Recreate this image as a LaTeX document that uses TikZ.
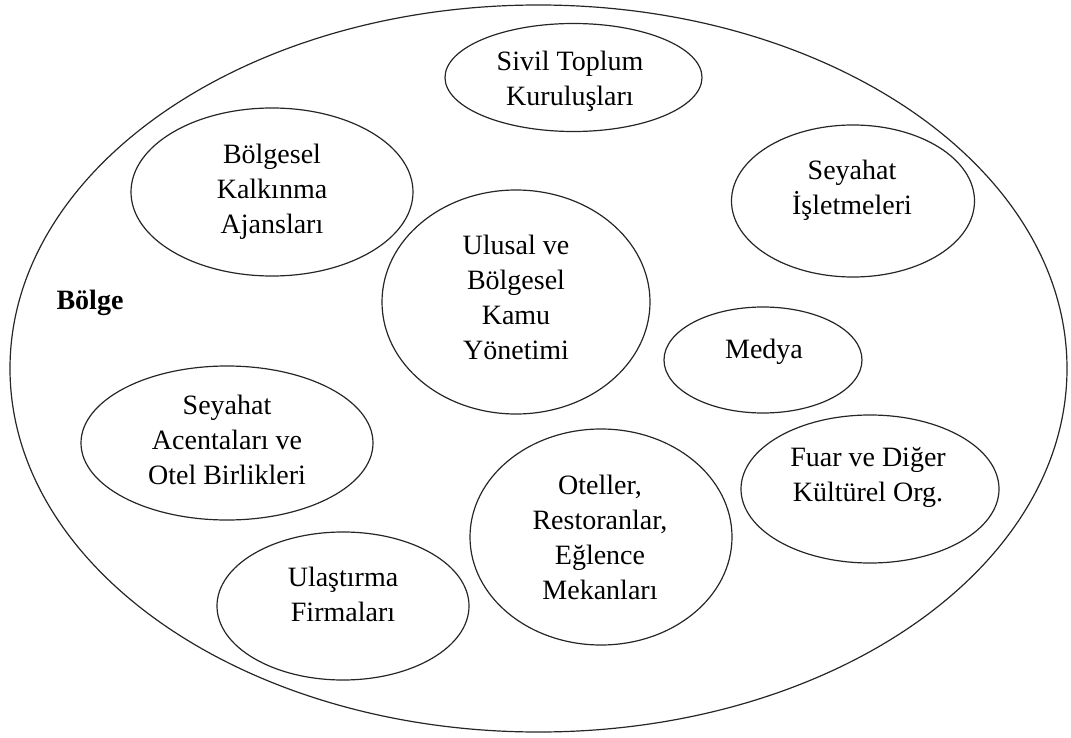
\documentclass[tikz,border=0pt]{standalone}
\usepackage{fontspec}
\setmainfont{Liberation Serif}
\usetikzlibrary{shapes.geometric}
\begin{document}
\begin{tikzpicture}[x=0.75pt,y=-0.75pt,
  blob/.style={draw=black!85, ellipse, inner sep=0pt, line width=0.9pt},
  txt/.style={align=center, inner sep=0pt, font=\fontsize{21}{26.25}\selectfont}]
\useasboundingbox (0,0) rectangle (1071,738);
% outer region
\node[blob, minimum width=792.75pt, minimum height=545.25pt] (region) at (538.5,368.5) {};
\node[txt, font=\fontsize{21}{26.25}\selectfont\bfseries] (bolge) at (90,303) {Bölge};
% inner ellipses
\node[blob, minimum width=192.75pt, minimum height=81pt] (sivil) at (573.5,77.5) {};
\node[blob, minimum width=211.5pt, minimum height=126pt] (bka) at (272,192) {};
\node[blob, minimum width=182.25pt, minimum height=114pt] (seyis) at (853,201) {};
\node[blob, minimum width=201pt, minimum height=168pt] (kamu) at (516,302) {};
\node[blob, minimum width=148.5pt, minimum height=79.5pt] (medya) at (763,360) {};
\node[blob, minimum width=219pt, minimum height=115.5pt] (acenta) at (227,443) {};
\node[blob, minimum width=189pt, minimum height=111pt] (ulas) at (343,606) {};
\node[blob, minimum width=196.5pt, minimum height=162pt] (otel) at (601,537) {};
\node[blob, minimum width=193.5pt, minimum height=111pt] (fuar) at (870,489) {};
% texts
\node[txt] (tsivil) at (570,81) {Sivil Toplum\\Kuruluşları};
\node[txt] (tbka) at (272,192) {Bölgesel\\Kalkınma\\Ajansları};
\node[txt] (tseyis) at (852,190) {Seyahat\\İşletmeleri};
\node[txt] (tkamu) at (516,297) {Ulusal ve\\Bölgesel\\Kamu\\Yönetimi};
\node[txt] (tmedya) at (764,352) {Medya};
\node[txt] (tacenta) at (227,440) {Seyahat\\Acentaları ve\\Otel Birlikleri};
\node[txt] (tulas) at (343,594) {Ulaştırma\\Firmaları};
\node[txt] (totel) at (600,537) {Oteller,\\Restoranlar,\\Eğlence\\Mekanları};
\node[txt] (tfuar) at (868,477) {Fuar ve Diğer\\Kültürel Org.};
\end{tikzpicture}
\end{document}
